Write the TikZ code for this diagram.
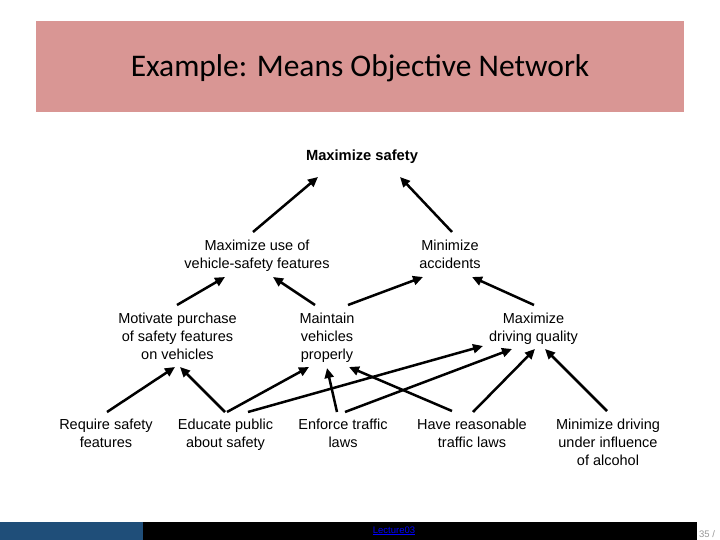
\documentclass[tikz,border=0pt]{standalone}
\usepackage{fontspec}
\setmainfont{Liberation Sans}
\newfontfamily\titlefont{Carlito}
\usetikzlibrary{arrows.meta}
\definecolor{titlepink}{RGB}{217,150,148}
\definecolor{barblue}{RGB}{31,78,121}
\definecolor{pagegrey}{RGB}{150,150,150}
\tikzset{
  goal/.style={inner sep=0pt, outer sep=0pt, anchor=north, align=center,
    font=\fontsize{14.5}{18}\selectfont},
  topgoal/.style={inner sep=0pt, outer sep=0pt, anchor=north,
    font=\fontsize{14.7}{18}\selectfont\bfseries},
  arr/.style={line width=2.5pt, -{Triangle[length=10pt,width=9pt]}},
}
\begin{document}
\begin{tikzpicture}[x=1pt,y=-1pt]
\useasboundingbox (0,0) rectangle (720,540);
% title bar
\fill[titlepink] (36,21) rectangle (684,112);
\node[inner sep=0pt, anchor=base, font=\titlefont\fontsize{31.5}{36}\selectfont] (title) at (360,77) {Example: Means Objective Network};
% bottom bar
\fill[barblue] (0,522) rectangle (143,540);
\fill[black] (143,522) rectangle (697,540);
\node[inner sep=0pt, anchor=base, text=blue, font=\fontsize{9.5}{11}\selectfont] (lec) at (394,533) {\underline{Lecture03}};
\node[inner sep=0pt, anchor=base west, text=pagegrey, font=\fontsize{9.5}{11}\selectfont] (pg) at (699,537.5) {35 /};
% nodes
\node[topgoal] (ms) at (362,150) {Maximize safety};
\node[goal] (mu) at (257,240) {Maximize use of\\vehicle-safety features};
\node[goal] (ma) at (450,240) {Minimize\\accidents};
\node[goal] (mp) at (177.5,313) {Motivate purchase\\of safety features\\on vehicles};
\node[goal] (mv) at (327,313) {Maintain\\vehicles\\properly};
\node[goal] (md) at (533.5,313) {Maximize\\driving quality};
\node[goal] (rs) at (106,419) {Require safety\\features};
\node[goal] (ep) at (225.5,419) {Educate public\\about safety};
\node[goal] (et) at (343,419) {Enforce traffic\\laws};
\node[goal] (hr) at (472,419) {Have reasonable\\traffic laws};
\node[goal] (mdr) at (608,419) {Minimize driving\\under influence\\of alcohol};
% connectors
\draw[arr] ([shift={(-4,-8)}]mu.north) -- ([shift={(-44,27)}]ms.north);
\draw[arr] ([shift={(2,-8)}]ma.north) -- ([shift={(38,27)}]ms.north);
\draw[arr] ([shift={(-0.5,-8)}]mp.north) -- ([shift={(-32,37)}]mu.north);
\draw[arr] ([shift={(-12,-8)}]mv.north) -- ([shift={(16,37)}]mu.north);
\draw[arr] ([shift={(21,-8)}]mv.north) -- ([shift={(-27,37)}]ma.north);
\draw[arr] ([shift={(0.5,-8)}]md.north) -- ([shift={(22,37)}]ma.north);
\draw[arr] ([shift={(1,-7)}]rs.north) -- ([shift={(-2.5,54)}]mp.north);
\draw[arr] ([shift={(-0.5,-7)}]ep.north) -- ([shift={(2.5,54)}]mp.north);
\draw[arr] ([shift={(1.5,-7)}]ep.north) -- ([shift={(-18,54)}]mv.north);
\draw[arr] ([shift={(22.5,-7)}]ep.north) -- ([shift={(-50.5,33)}]md.north);
\draw[arr] ([shift={(-6,-7)}]et.north) -- ([shift={(0,55)}]mv.north);
\draw[arr] ([shift={(2,-7)}]et.north) -- ([shift={(-21.5,36)}]md.north);
\draw[arr] ([shift={(-20,-8)}]hr.north) -- ([shift={(22,54)}]mv.north);
\draw[arr] ([shift={(1,-7)}]hr.north) -- ([shift={(1.5,36)}]md.north);
\draw[arr] ([shift={(-1,-8)}]mdr.north) -- ([shift={(11.5,36)}]md.north);
\end{tikzpicture}
\end{document}
